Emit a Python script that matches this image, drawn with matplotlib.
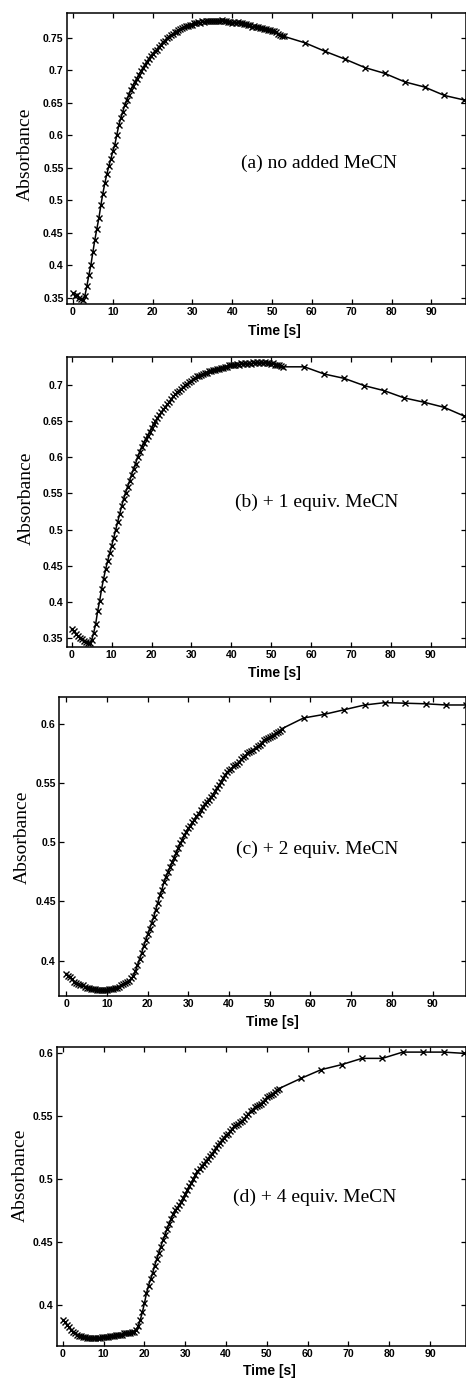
import matplotlib
matplotlib.use("Agg")
import matplotlib.pyplot as plt
from matplotlib.ticker import FormatStrFormatter, MultipleLocator

# sampling times [s], shared by all four runs
time_s = [
    0.0, 0.5, 1.0, 1.5, 2.0, 2.5, 3.0, 3.5, 4.0, 4.5,
    5.0, 5.5, 6.0, 6.5, 7.0, 7.5, 8.0, 8.5, 9.0, 9.5,
    10.0, 10.5, 11.0, 11.5, 12.0, 12.5, 13.0, 13.5, 14.0, 14.5,
    15.0, 15.5, 16.0, 16.5, 17.0, 17.5, 18.0, 18.5, 19.0, 19.5,
    20.0, 20.5, 21.0, 21.5, 22.0, 22.5, 23.0, 23.5, 24.0, 24.5,
    25.0, 25.5, 26.0, 26.5, 27.0, 27.5, 28.0, 28.5, 29.0, 29.5,
    30.0, 30.5, 31.0, 31.5, 32.0, 32.5, 33.0, 33.5, 34.0, 34.5,
    35.0, 35.5, 36.0, 36.5, 37.0, 37.5, 38.0, 38.5, 39.0, 39.5,
    40.0, 40.5, 41.0, 41.5, 42.0, 42.5, 43.0, 43.5, 44.0, 44.5,
    45.0, 45.5, 46.0, 46.5, 47.0, 47.5, 48.0, 48.5, 49.0, 49.5,
    50.0, 50.5, 51.0, 51.5, 52.0, 52.5, 53.0,
    58.3, 63.3, 68.3, 73.3, 78.3, 83.3, 88.3, 93.3, 98.3,
]

# (a) no added MeCN
abs_a = [
    0.357, 0.353, 0.354, 0.349, 0.348, 0.346, 0.353, 0.368, 0.385, 0.400,
    0.420, 0.439, 0.456, 0.472, 0.492, 0.510, 0.526, 0.540, 0.552, 0.563,
    0.575, 0.585, 0.600, 0.615, 0.626, 0.636, 0.646, 0.654, 0.662, 0.670,
    0.676, 0.682, 0.687, 0.693, 0.698, 0.703, 0.708, 0.713, 0.717, 0.722,
    0.725, 0.729, 0.731, 0.736, 0.738, 0.743, 0.745, 0.749, 0.751, 0.754,
    0.755, 0.758, 0.759, 0.762, 0.763, 0.765, 0.766, 0.768, 0.768, 0.770,
    0.770, 0.772, 0.772, 0.774, 0.773, 0.775, 0.774, 0.776, 0.775, 0.776,
    0.775, 0.776, 0.775, 0.776, 0.775, 0.777, 0.775, 0.775, 0.774, 0.774,
    0.773, 0.774, 0.773, 0.774, 0.772, 0.773, 0.771, 0.771, 0.769, 0.769,
    0.767, 0.768, 0.766, 0.767, 0.765, 0.765, 0.764, 0.764, 0.762, 0.762,
    0.760, 0.760, 0.758, 0.756, 0.754, 0.753, 0.752,
    0.742, 0.729, 0.717, 0.704, 0.695, 0.682, 0.674, 0.661, 0.654,
]

# (b) + 1 equiv. MeCN
abs_b = [
    0.362, 0.359, 0.356, 0.353, 0.350, 0.348, 0.346, 0.344, 0.343, 0.343,
    0.347, 0.357, 0.369, 0.387, 0.401, 0.418, 0.432, 0.445, 0.456, 0.467,
    0.477, 0.488, 0.499, 0.510, 0.521, 0.532, 0.542, 0.551, 0.559, 0.567,
    0.576, 0.584, 0.591, 0.600, 0.607, 0.614, 0.620, 0.625, 0.630, 0.635,
    0.641, 0.646, 0.650, 0.654, 0.659, 0.662, 0.666, 0.670, 0.673, 0.677,
    0.681, 0.684, 0.687, 0.690, 0.692, 0.695, 0.697, 0.700, 0.701, 0.704,
    0.705, 0.708, 0.709, 0.712, 0.712, 0.714, 0.715, 0.717, 0.717, 0.719,
    0.719, 0.721, 0.721, 0.722, 0.722, 0.723, 0.723, 0.725, 0.725, 0.727,
    0.727, 0.728, 0.728, 0.729, 0.728, 0.730, 0.729, 0.730, 0.729, 0.730,
    0.729, 0.731, 0.730, 0.731, 0.730, 0.731, 0.730, 0.731, 0.730, 0.730,
    0.729, 0.730, 0.728, 0.728, 0.727, 0.726, 0.725,
    0.725, 0.715, 0.709, 0.699, 0.692, 0.682, 0.676, 0.669, 0.657,
]

# (c) + 2 equiv. MeCN
abs_c = [
    0.389, 0.387, 0.386, 0.384, 0.382, 0.381, 0.380, 0.379, 0.379, 0.378,
    0.377, 0.377, 0.376, 0.376, 0.376, 0.375, 0.375, 0.375, 0.375, 0.375,
    0.375, 0.376, 0.376, 0.376, 0.377, 0.377, 0.378, 0.379, 0.380, 0.381,
    0.382, 0.383, 0.385, 0.387, 0.391, 0.396, 0.401, 0.406, 0.412, 0.417,
    0.422, 0.427, 0.432, 0.437, 0.443, 0.449, 0.455, 0.460, 0.466, 0.471,
    0.475, 0.479, 0.483, 0.487, 0.491, 0.495, 0.499, 0.502, 0.506, 0.509,
    0.512, 0.514, 0.517, 0.519, 0.522, 0.524, 0.527, 0.530, 0.532, 0.534,
    0.536, 0.538, 0.540, 0.543, 0.546, 0.548, 0.551, 0.554, 0.557, 0.559,
    0.561, 0.562, 0.564, 0.565, 0.566, 0.568, 0.570, 0.572, 0.573, 0.575,
    0.576, 0.577, 0.578, 0.580, 0.581, 0.582, 0.584, 0.586, 0.587, 0.588,
    0.589, 0.590, 0.591, 0.592, 0.593, 0.594, 0.596,
    0.605, 0.608, 0.612, 0.616, 0.618, 0.6175, 0.617, 0.616, 0.616,
]

# (d) + 4 equiv. MeCN
abs_d = [
    0.388, 0.386, 0.384, 0.382, 0.380, 0.378, 0.377, 0.376, 0.375, 0.375,
    0.374, 0.374, 0.373, 0.373, 0.373, 0.373, 0.373, 0.373, 0.373, 0.374,
    0.374, 0.374, 0.374, 0.375, 0.375, 0.375, 0.376, 0.376, 0.376, 0.376,
    0.377, 0.377, 0.377, 0.377, 0.378, 0.378, 0.380, 0.383, 0.388, 0.394,
    0.401, 0.409, 0.415, 0.420, 0.425, 0.431, 0.436, 0.441, 0.446, 0.451,
    0.455, 0.460, 0.464, 0.468, 0.472, 0.475, 0.477, 0.479, 0.482, 0.485,
    0.488, 0.491, 0.494, 0.497, 0.500, 0.503, 0.506, 0.508, 0.510, 0.512,
    0.514, 0.516, 0.518, 0.520, 0.522, 0.525, 0.527, 0.529, 0.531, 0.533,
    0.535, 0.536, 0.538, 0.540, 0.542, 0.543, 0.544, 0.545, 0.546, 0.548,
    0.550, 0.552, 0.554, 0.555, 0.557, 0.558, 0.559, 0.560, 0.561, 0.563,
    0.565, 0.566, 0.567, 0.568, 0.569, 0.571, 0.572,
    0.580, 0.587, 0.591, 0.596, 0.596, 0.601, 0.601, 0.601, 0.600,
]

labels = ["(a) no added MeCN", "(b) + 1 equiv. MeCN",
          "(c) + 2 equiv. MeCN", "(d) + 4 equiv. MeCN"]
series = [abs_a, abs_b, abs_c, abs_d]

W, H = 466, 1378
fig = plt.figure(figsize=(W / 100, H / 100), dpi=100)

# pixel boxes of each panel: left, top, bottom  (right runs off the page)
boxes = [(67, 13, 304), (66.7, 356.7, 647), (59.3, 696.7, 996), (56.7, 1046.7, 1346)]
xlims = [(-1.5, 98.7), (-1.25, 98.8), (-1.7, 98.2), (-1.5, 98.8)]
ylims = [(0.340, 0.788), (0.3375, 0.739), (0.370, 0.623), (0.367, 0.6053)]
yticks = [(0.35, 0.75), (0.35, 0.70), (0.40, 0.60), (0.40, 0.60)]
note_xy = [(42.1, 0.556), (41.0, 0.538), (41.7, 0.4936), (41.6, 0.4857)]
ylab_xy = [(25, 154), (26, 498), (22, 837), (20, 1175)]
xlab_xy = [(274, 331), (274, 673), (272, 1022), (269, 1371)]

tick_font = "Liberation Sans"
serif_font = "Liberation Serif"

for i in range(4):
    l, t, b = boxes[i]
    ax = fig.add_axes([l / W, 1 - b / H, (W - l) / W, (b - t) / H])
    ax.plot(time_s, series[i], color="black", lw=1.1, marker="x",
            ms=4.8, mew=1.0)
    ax.set_xlim(*xlims[i])
    ax.set_ylim(*ylims[i])
    ax.xaxis.set_major_locator(MultipleLocator(10))
    lo, hi = yticks[i]
    n = int(round((hi - lo) / 0.05)) + 1
    ax.set_yticks([lo + 0.05 * k for k in range(n)])
    ax.yaxis.set_major_formatter(FormatStrFormatter("%g"))
    ax.tick_params(direction="in", top=True, right=True, length=3.5,
                   width=0.9, labelsize=7.6, pad=2.5)
    for lab in ax.get_xticklabels() + ax.get_yticklabels():
        lab.set_fontfamily(tick_font)
        lab.set_fontweight("bold")
    for s in ax.spines.values():
        s.set_linewidth(1.1)
    ax.text(note_xy[i][0], note_xy[i][1], labels[i], fontsize=14,
            family=serif_font, ha="left", va="center")
    fig.text(ylab_xy[i][0] / W, 1 - ylab_xy[i][1] / H, "Absorbance",
             rotation=90, fontsize=14, family=serif_font,
             ha="center", va="center")
    fig.text(xlab_xy[i][0] / W, 1 - xlab_xy[i][1] / H, "Time [s]",
             fontsize=10, family=tick_font, fontweight="bold",
             ha="center", va="center")

fig.savefig("out.png", dpi=100)
